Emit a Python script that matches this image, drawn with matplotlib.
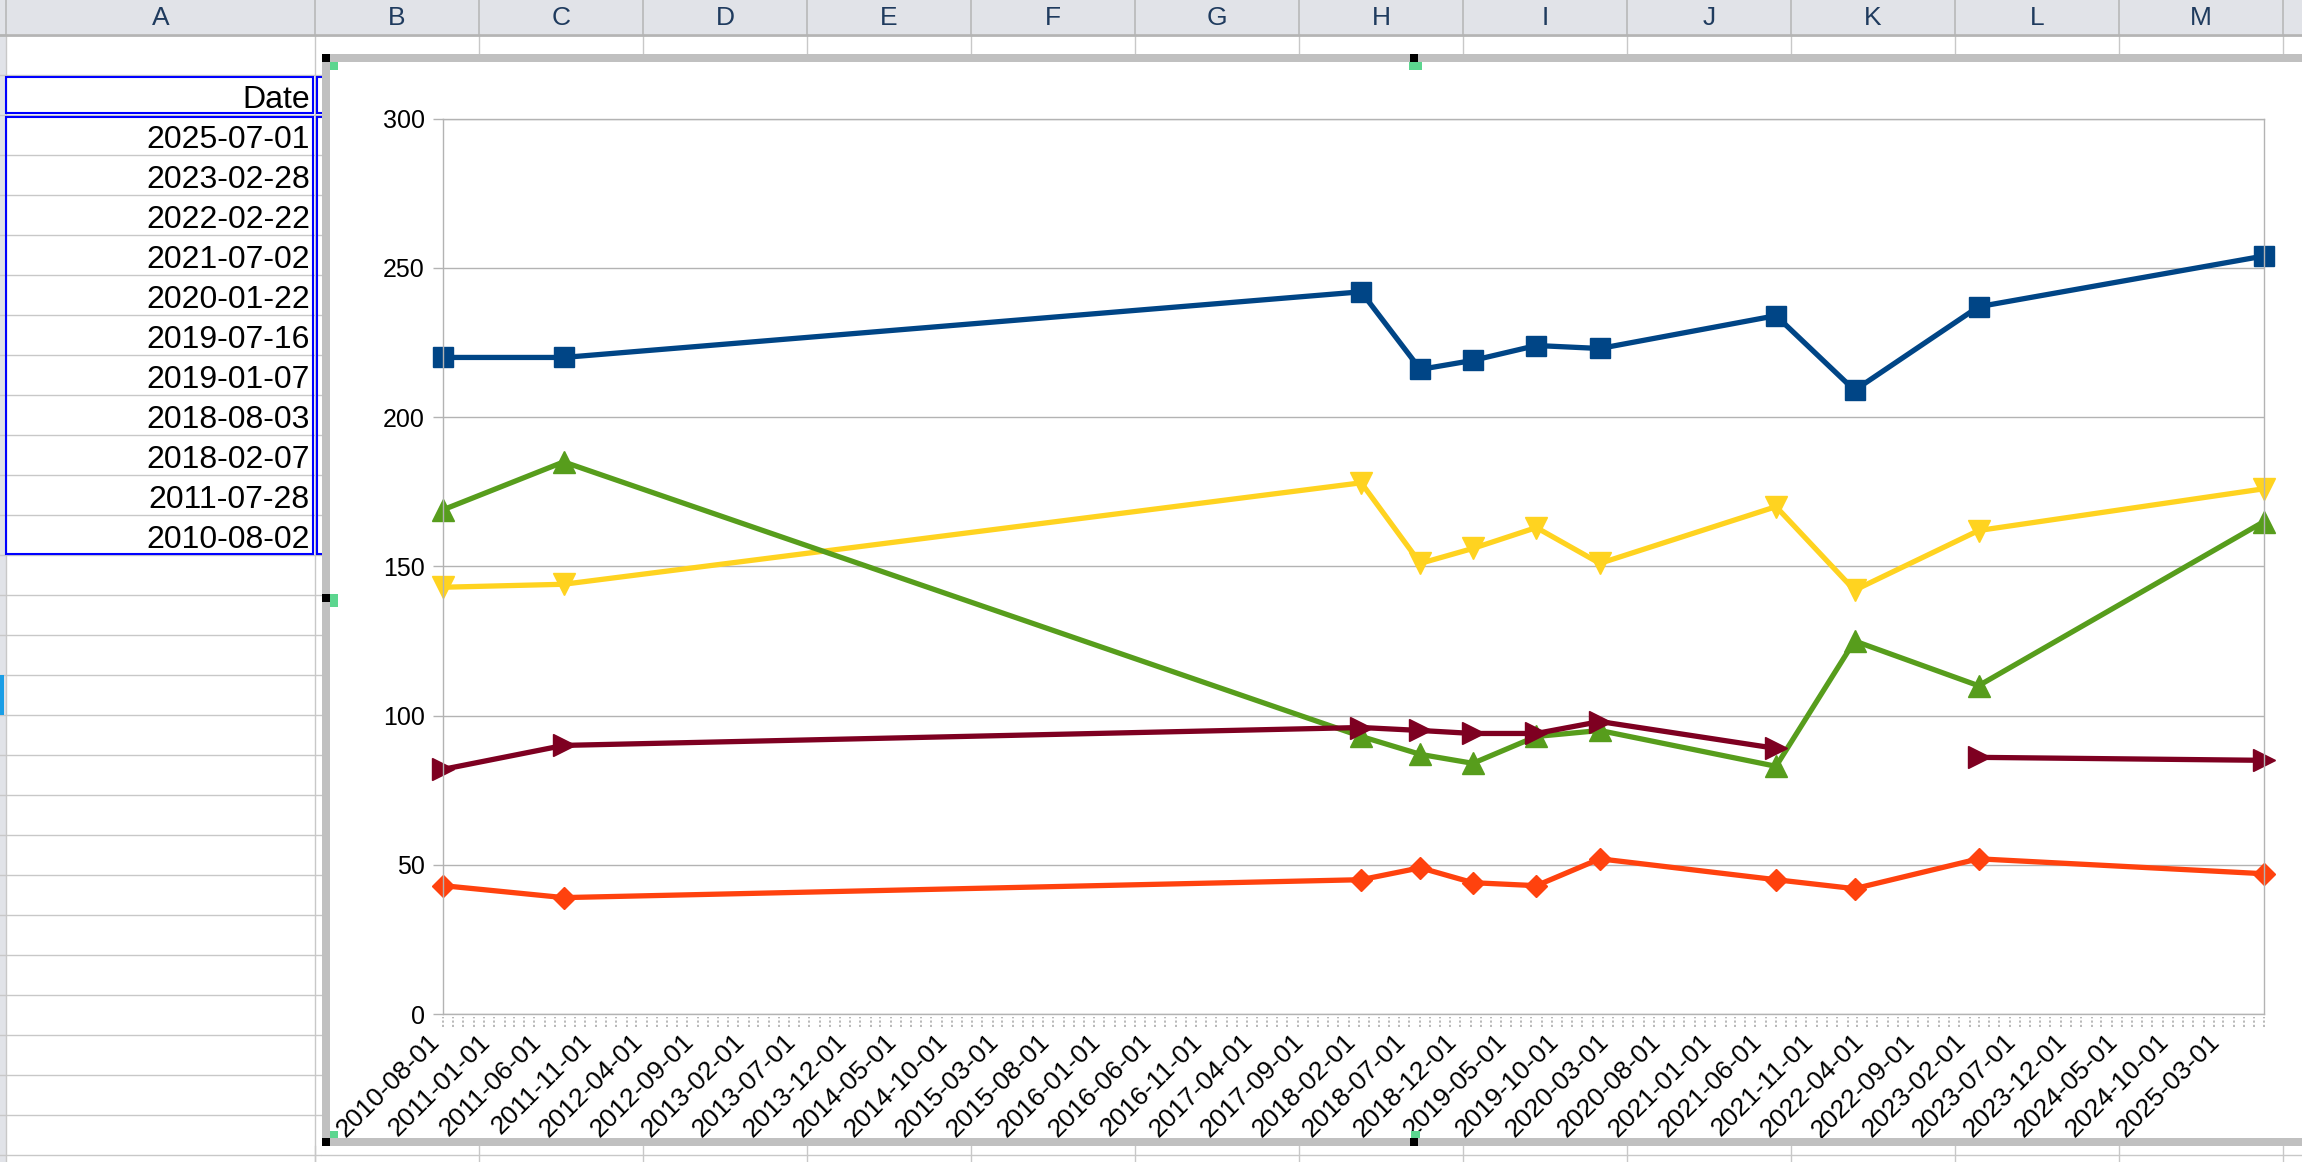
import numpy as np
import pandas as pd
import matplotlib
matplotlib.use('Agg')
import matplotlib.pyplot as plt
import matplotlib.dates as mdates
from matplotlib.patches import Rectangle
from matplotlib.transforms import blended_transform_factory, ScaledTranslation

plt.rcParams['font.family'] = ['Liberation Sans', 'DejaVu Sans']

W, H = 2302, 1162

# data
dates = pd.to_datetime(['2010-08-02', '2011-07-28', '2018-02-07', '2018-08-03',
                        '2019-01-07', '2019-07-16', '2020-01-22', '2021-07-02',
                        '2022-02-22', '2023-02-28', '2025-07-01'])
s_blue = [220, 220, 242, 216, 219, 224, 223, 234, 209, 237, 254]
s_orange = [43, 39, 45, 49, 44, 43, 52, 45, 42, 52, 47]
s_yellow = [143, 144, 178, 151, 156, 163, 151, 170, 142, 162, 176]
s_green = [169, 185, 93, 87, 84, 93, 95, 83, 125, 110, 165]
s_red = [82, 90, 96, 95, 94, 94, 98, 89, np.nan, 86, 85]

col_letters = list('ABCDEFGHIJKLM')
cell_dates = ['2025-07-01', '2023-02-28', '2022-02-22', '2021-07-02', '2020-01-22',
              '2019-07-16', '2019-01-07', '2018-08-03', '2018-02-07', '2011-07-28',
              '2010-08-02']

series = [
    (s_blue, '#004586', 's', 14),
    (s_orange, '#ff420e', 'D', 11),
    (s_yellow, '#ffd320', 'v', 16),
    (s_green, '#579d1c', '^', 16),
    (s_red, '#7e0021', '>', 16),
]

grid_c = '#c8c8c8'
head_c = '#e1e3e8'
frame_c = '#c0c0c0'

fig = plt.figure(figsize=(W / 100, H / 100), dpi=100)

# ---- spreadsheet background (pixel coords)
bg = fig.add_axes([0, 0, 1, 1], zorder=0)
bg.set_xlim(0, W)
bg.set_ylim(H, 0)
bg.axis('off')

col_x = [6] + [315 + 164 * k for k in range(13)]
row_y = [34, 75] + [115 + 40 * k for k in range(27)]

bg.add_patch(Rectangle((0, 0), W, 34, color=head_c, lw=0))
bg.add_patch(Rectangle((0, 34), 6, H, color=head_c, lw=0))
for x in col_x:
    bg.plot([x, x], [0, 34], color='#b8b8b8', lw=1.2)
    bg.plot([x, x], [34, H], color=grid_c, lw=1.0)
for y in row_y[1:]:
    bg.plot([0, W], [y, y], color=grid_c, lw=1.0)
bg.plot([0, W], [34.5, 34.5], color='#b4b4b4', lw=2)
bg.add_patch(Rectangle((0, 675), 4, 40, color='#1a9ee6', lw=0, zorder=3))

for i, letter in enumerate(col_letters):
    cx = (col_x[i] + col_x[i + 1]) / 2
    bg.text(cx, 18, letter, ha='center', va='center', fontsize=19,
            color='#1f3b5e', family=['Liberation Sans Narrow', 'Liberation Sans'])

bg.text(310, 75 + 33, 'Date', ha='right', va='baseline', fontsize=23)
for i, d in enumerate(cell_dates):
    bg.text(310, 115 + 40 * i + 33, d, ha='right', va='baseline', fontsize=23)

for (x0, x1) in [(6, 313), (317, 340)]:
    bg.add_patch(Rectangle((x0, 76.5), x1 - x0, 36, fill=False, ec='#0000ff', lw=1.5, zorder=3))
    bg.add_patch(Rectangle((x0, 116.5), x1 - x0, 437, fill=False, ec='#0000ff', lw=1.5, zorder=3))

# chart area
bg.add_patch(Rectangle((322, 54), W, 1092, color='white', lw=0, zorder=4))

# ---- chart
ax = fig.add_axes([443 / W, 1 - 1014 / H, (2264 - 443) / W, (1014 - 118.7) / H], zorder=2)
for vals, c, m, ms in series:
    ax.plot(dates, vals, color=c, lw=3.8, marker=m, markersize=ms,
            markeredgecolor=c, clip_on=False)

ax.set_ylim(0, 300)
ax.set_yticks(range(0, 301, 50))
ax.set_xlim(pd.Timestamp('2010-08-02'), pd.Timestamp('2025-07-01'))
major = pd.date_range('2010-08-01', '2025-07-01', freq='5MS')
ax.set_xticks(major)
ax.xaxis.set_major_formatter(mdates.DateFormatter('%Y-%m-%d'))
ax.grid(axis='y', color='#b3b3b3', lw=1.0)
ax.set_axisbelow(True)
for sp in ax.spines.values():
    sp.set_color('#b3b3b3')
    sp.set_linewidth(1.0)
ax.tick_params(axis='y', length=7, width=1, color='#b3b3b3', labelsize=18, pad=6)
ax.tick_params(axis='x', length=0, labelsize=19, pad=17)
shift = ScaledTranslation(-16 / 100, 8 / 100, fig.dpi_scale_trans)
for lab in ax.get_xticklabels():
    lab.set_rotation(45)
    lab.set_ha('right')
    lab.set_rotation_mode('anchor')
    lab.set_transform(lab.get_transform() + shift)

# dotted monthly minor ticks
minor = pd.date_range('2010-08-01', '2025-07-01', freq='MS')
tr = blended_transform_factory(ax.transData, ax.transAxes)
ax.vlines(minor, -0.0145, -0.0035, transform=tr, color='#b3b3b3', lw=1.3,
          linestyles=(0, (1.2, 1.2)), clip_on=False)

# ---- chart frame, handles and cells below chart on top
fg = fig.add_axes([0, 0, 1, 1], zorder=3)
fg.set_xlim(0, W)
fg.set_ylim(H, 0)
fg.axis('off')
fg.patch.set_alpha(0)
fg.add_patch(Rectangle((322, 1146), W, H - 1146, color='white', lw=0))
for x in col_x[1:]:
    fg.plot([x, x], [1146, H], color=grid_c, lw=1.0)
fg.plot([322, W], [1155, 1155], color=grid_c, lw=1.0)

fg.add_patch(Rectangle((322, 54), W, 8, color=frame_c, lw=0))
fg.add_patch(Rectangle((322, 54), 8, 1092, color=frame_c, lw=0))
fg.add_patch(Rectangle((322, 1138), W, 8, color=frame_c, lw=0))
for (hx, hy) in [(322, 54), (1410, 54), (322, 594), (322, 1138), (1410, 1138)]:
    fg.add_patch(Rectangle((hx, hy), 8, 8, color='black', lw=0))
green = '#5cd68f'
for (gx, gy, gw, gh) in [(330, 62, 8, 8), (1409, 62, 13, 8), (330, 594, 8, 13),
                         (330, 1131, 8, 7), (1411, 1131, 9, 7)]:
    fg.add_patch(Rectangle((gx, gy), gw, gh, color=green, lw=0))

fig.savefig('out.png', dpi=100)
